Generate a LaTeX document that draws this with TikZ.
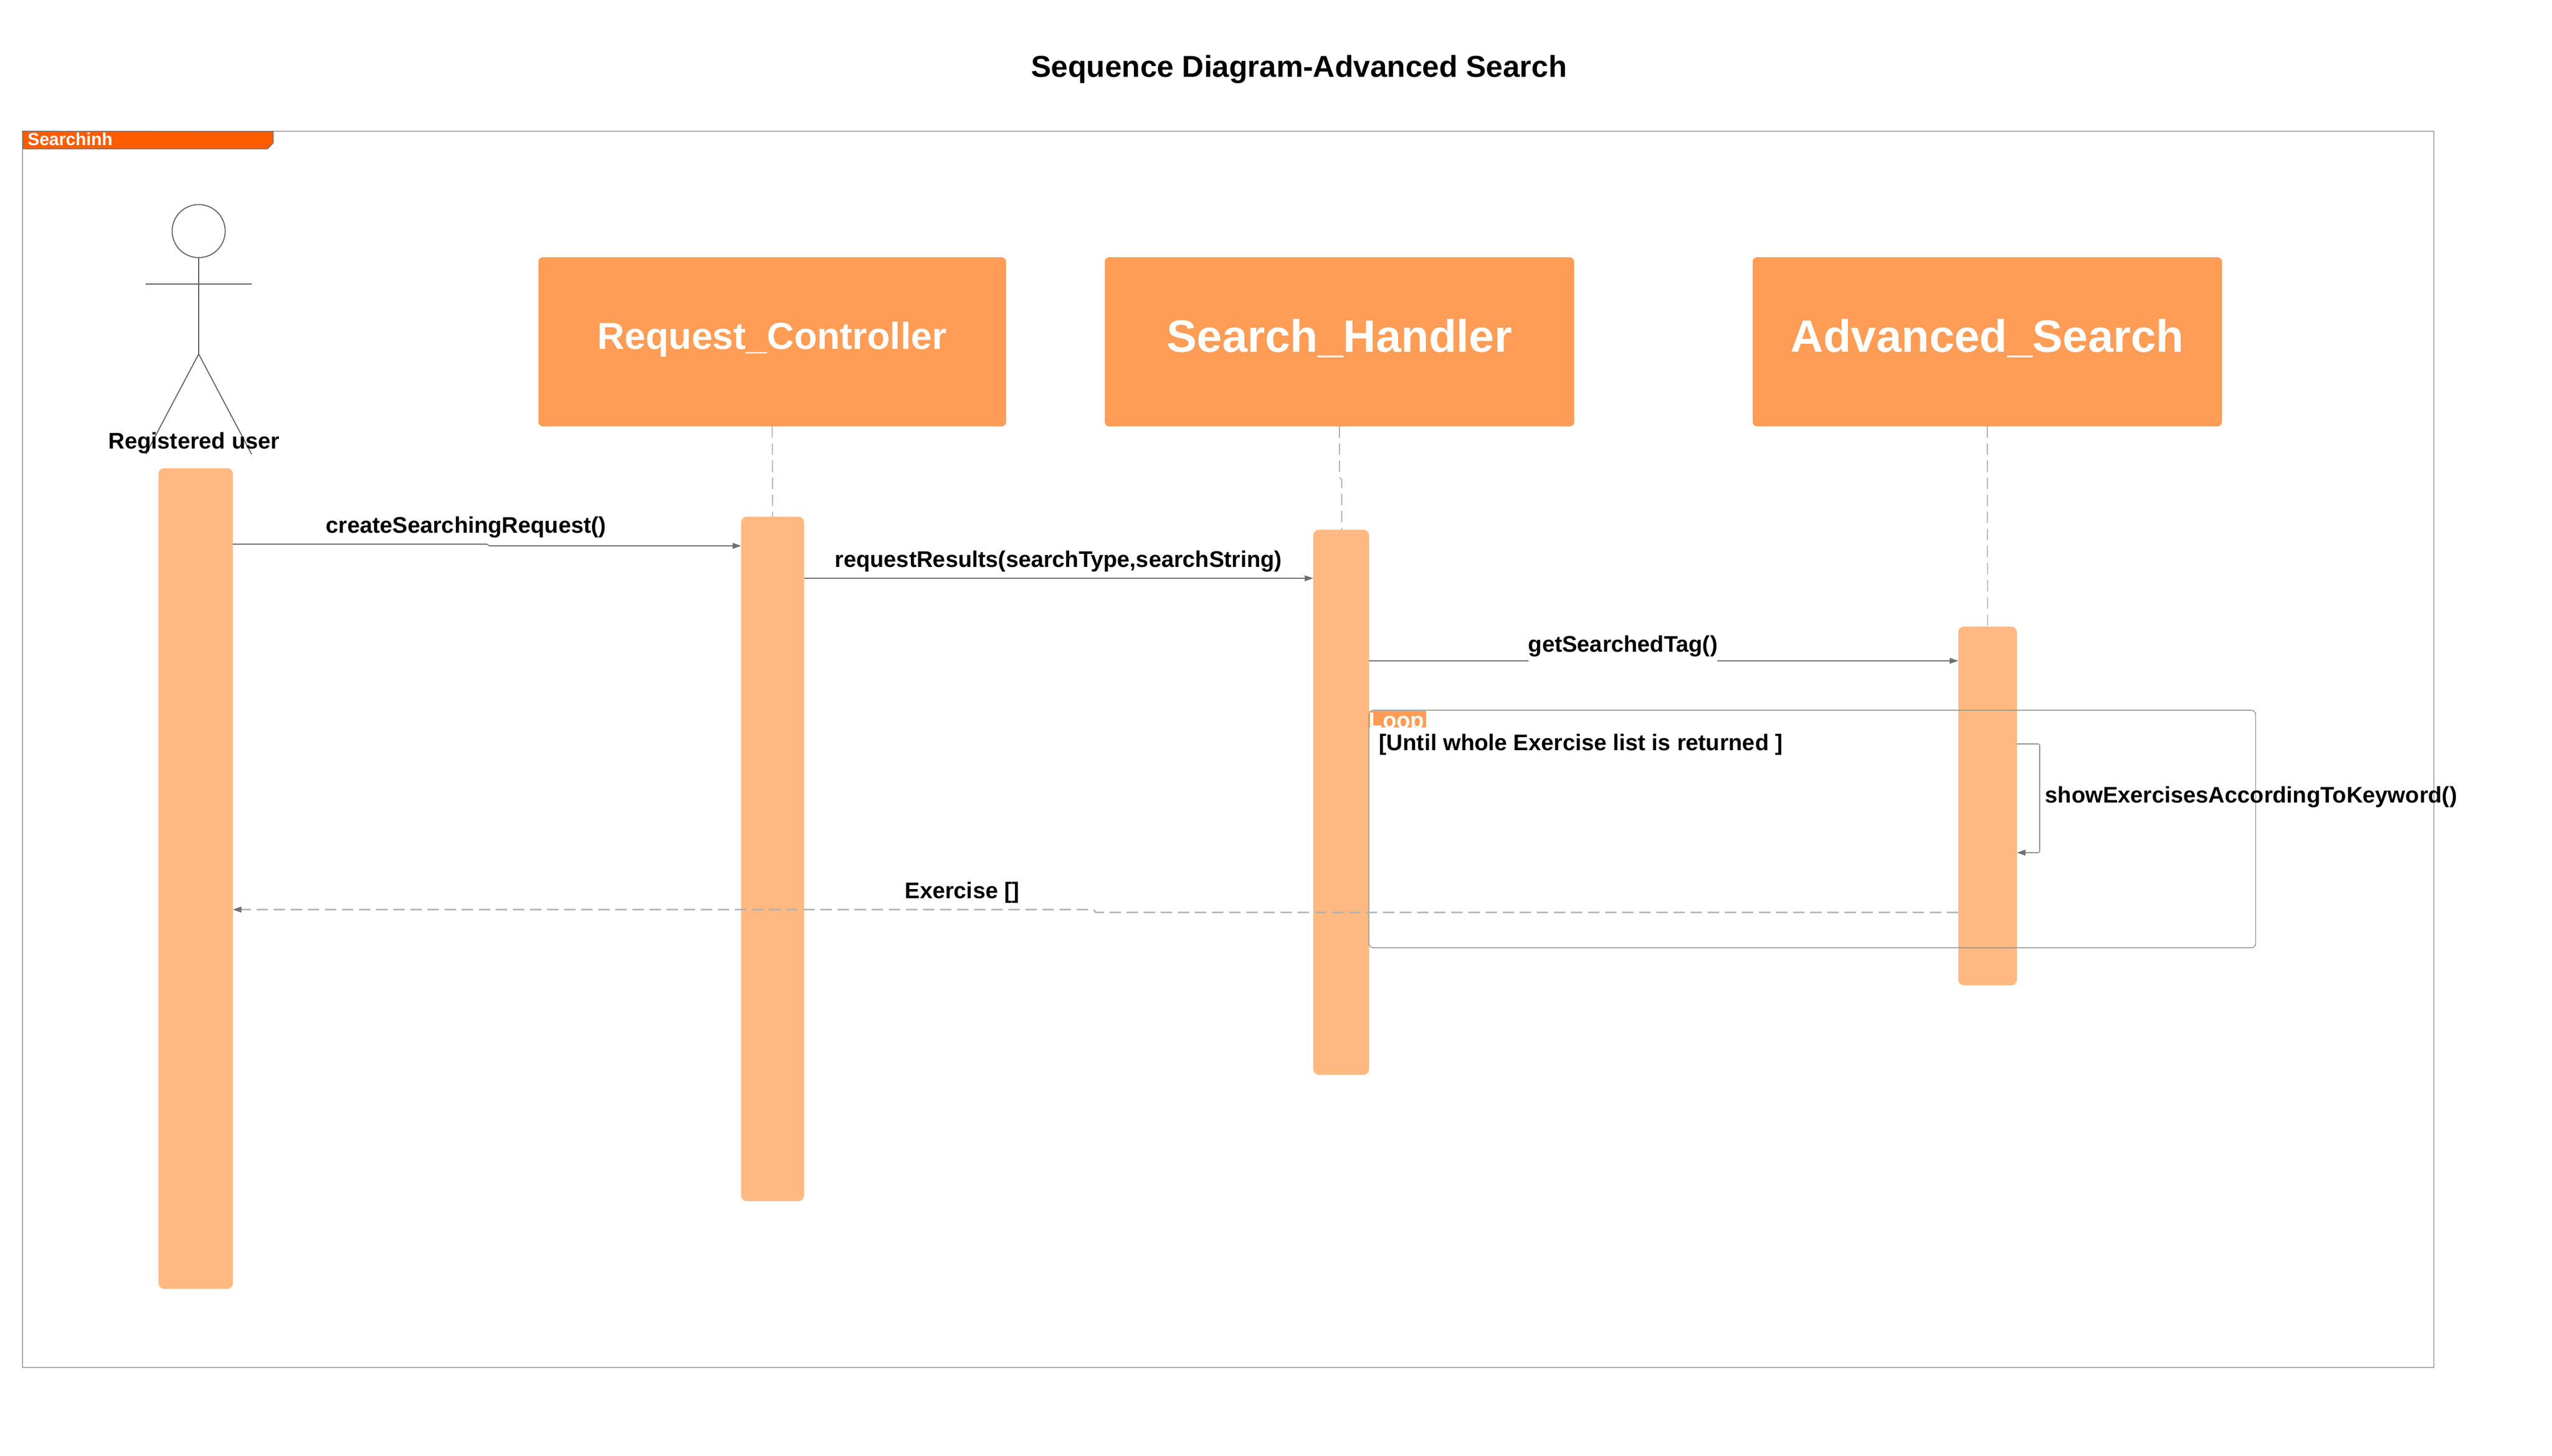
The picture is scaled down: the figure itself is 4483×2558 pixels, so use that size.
\documentclass[tikz,border=0pt]{standalone}
\usepackage{fontspec}
\setmainfont{Liberation Sans}
\usetikzlibrary{arrows.meta}
\definecolor{headcol}{HTML}{FF9C55}
\definecolor{barcol}{HTML}{FFB981}
\definecolor{tabcol}{HTML}{FF5C00}
\definecolor{linecol}{HTML}{707070}
\definecolor{stickcol}{HTML}{606060}
\definecolor{loopcol}{HTML}{909090}
\definecolor{dashcol}{HTML}{B0B0B0}
\tikzset{
	headbox/.style={fill=headcol,rounded corners=0.08cm,inner sep=0,outer sep=0,minimum height=2.97cm,text=white,text depth=0.22cm,font=\fontsize{22.65}{26}\selectfont\bfseries},
	actbar/.style={fill=barcol,rounded corners=0.1cm,inner sep=0,outer sep=0},
	framebox/.style={draw=linecol,line width=0.4pt,inner sep=0,outer sep=0},
	msg/.style={inner sep=0,anchor=base west,font=\fontsize{11.3}{13}\selectfont\bfseries},
	call/.style={draw=linecol,line width=0.45pt,-{Triangle[length=0.15cm,width=0.1cm,color=linecol]}},
	reply/.style={draw=dashcol,line width=0.75pt,dash pattern=on 0.2cm off 0.1cm,-{Triangle[length=0.15cm,width=0.1cm,color=linecol]}},
	lifeline/.style={draw=dashcol,line width=0.5pt,dash pattern=on 0.2cm off 0.1cm},
	stick/.style={draw=stickcol,line width=0.5pt}
}
\begin{document}
\begin{tikzpicture}[x=0.01cm,y=-0.01cm]
	\useasboundingbox (0,0) rectangle (4483,2558);
	\node [inner sep=0,anchor=base,font=\fontsize{15.1}{18}\selectfont\bfseries] (title) at (2282,136) {Sequence Diagram-Advanced Search};
	\node [framebox,minimum width=42.334cm,minimum height=21.71cm] (outer) at (2157.3,1316.5) {};
	\draw [draw=linecol,line width=0.4pt,fill=tabcol] (outer.north west) -- (480,231) -- (480,251) -- (470,261.6) -- (40.6,261.6) -- cycle;
	\node [inner sep=0,anchor=base west,text=white,font=\fontsize{8.77}{10}\selectfont\bfseries] (outerlabel) at (48,256) {Searchinh};

	\node [circle,stick,inner sep=0,outer sep=0,minimum size=0.932cm] (head) at (349,406) {};
	\coordinate (hip) at (349,622);
	\coordinate (armL) at (256,499);
	\coordinate (armR) at (442,499);
	\coordinate (footL) at (256,798);
	\coordinate (footR) at (442,798);
	\draw [stick] (head.south) -- (hip);
	\draw [stick] (armL) -- (armR);
	\draw [stick] (footL) -- (hip) -- (footR);
	\node [msg] (user) at (190,788) {Registered user};

	\node [headbox,minimum width=8.21cm,font=\fontsize{18.8}{22}\selectfont\bfseries] (rc) at (1356.5,600.5) {Request\_Controller};
	\node [headbox,minimum width=8.24cm] (sh) at (2353,600.5) {Search\_Handler};
	\node [headbox,minimum width=8.24cm] (as) at (3491,600.5) {Advanced\_Search};

	\node [actbar,minimum width=1.305cm,minimum height=14.41cm] (barU) at (343.75,1543.5) {};
	\node [actbar,minimum width=1.105cm,minimum height=12.02cm] (barRC) at (1357.25,1509) {};
	\node [actbar,minimum width=0.98cm,minimum height=9.57cm] (barSH) at (2356,1409.5) {};
	\node [actbar,minimum width=1.03cm,minimum height=6.3cm] (barAS) at (3491.5,1416) {};

	\coordinate (jogSHa) at (2353,839);
	\coordinate (jogSHb) at (2357,843);
	\draw [lifeline] (rc.south) -- (barRC.north);
	\draw [lifeline] (sh.south) -- (jogSHa) -- (jogSHb) -- (barSH.north -| jogSHb);
	\draw [lifeline] (as.south) -- (barAS.north);

	\node [framebox,rounded corners=0.08cm,draw=loopcol,minimum width=15.57cm,minimum height=4.17cm] (loop) at (3183.5,1456.5) {};
	\fill [headcol] (2405,1249) rectangle (2505,1278);
	\node [msg,text=white] (looplabel) at (2404,1279) {Loop};
	\node [msg] (guard) at (2422,1318) {[Until whole Exercise list is returned ]};

	\coordinate (jogCa) at (855,956);
	\coordinate (jogCb) at (860,959);
	\draw [call] (barU.east |- jogCa) -- (jogCa) -- (jogCb) -- (barRC.west |- jogCb);
	\node [msg] (create) at (572,936) {createSearchingRequest()};
	\coordinate (reqY) at (0,1016);
	\draw [call] (barRC.east |- reqY) -- (barSH.west |- reqY);
	\node [msg] (request) at (1466,996) {requestResults(searchType,searchString)};
	\coordinate (tagY) at (0,1161);
	\draw [call] (barSH.east |- tagY) -- (barAS.west |- tagY);
	\node [msg,fill=white,inner ysep=5pt] (tag) at (2684,1145) {getSearchedTag()};
	\coordinate (selfA) at (0,1307);
	\coordinate (selfB) at (0,1498);
	\draw [call,draw=loopcol,rounded corners=0.03cm] (barAS.east |- selfA) -- (3583,1307) -- (3583,1498) -- (barAS.east |- selfB);
	\node [msg] (show) at (3592,1410) {showExercisesAccordingToKeyword()};
	\coordinate (jogRa) at (1925,1603);
	\coordinate (jogRb) at (1921,1598);
	\draw [reply] (barAS.west |- jogRa) -- (jogRa) -- (jogRb) -- (barU.east |- jogRb);
	\node [msg] (exercise) at (1589,1578) {Exercise []};
\end{tikzpicture}
\end{document}
